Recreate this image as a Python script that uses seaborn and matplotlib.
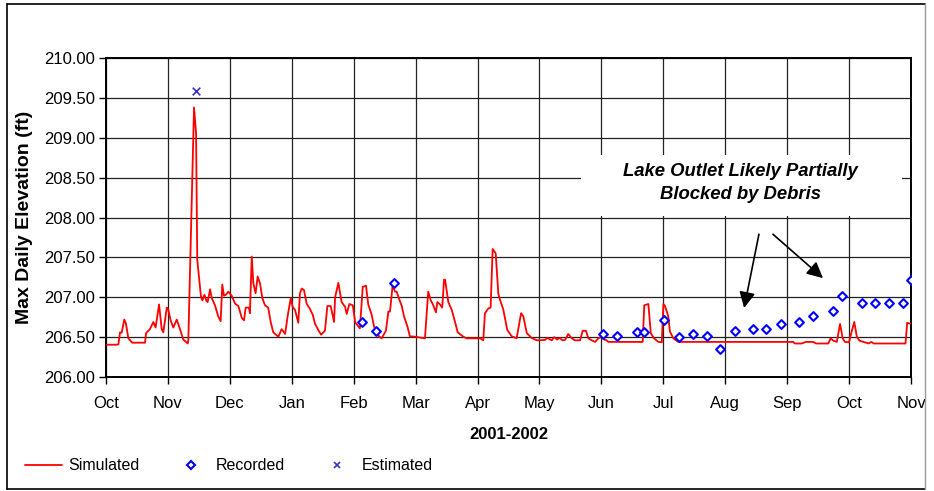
import numpy as np
import pandas as pd
import matplotlib
matplotlib.use("Agg")
import matplotlib.pyplot as plt
from matplotlib.patches import Rectangle
from matplotlib.lines import Line2D
import seaborn as sns

# Simulated max daily lake elevation (days since 1 Oct 2001, ft)
sim_day = [0, 5.3, 6.1, 6.9, 7.7, 9.0, 9.8, 11.0, 12.9, 19.2, 19.7, 21.6, 23.3, 24.4, 26.1,
           27.4, 28.2, 29.9, 30.6, 31.8, 33.1, 34.8, 36.4, 38.0, 40.2, 40.5, 43.3, 44.3, 44.9,
           46.7, 47.4, 48.4, 49.5, 50.0, 51.2, 52.0, 53.6, 55.2, 56.4, 57.2, 58.0, 58.9, 60.2,
           61.8, 63.5, 65.1, 66.8, 67.9, 68.7, 70.3, 70.8, 71.7, 72.5, 73.6, 74.6, 75.8, 76.9,
           78.2, 79.8, 81.0, 82.3, 84.8, 86.4, 88.1, 89.4, 90.9, 91.8, 93.0, 94.6, 95.4, 96.3,
           97.4, 98.7, 100.4, 101.7, 102.8, 104.4, 105.8, 107.7, 108.9, 110.5, 112.2, 112.7,
           114.3, 115.9, 117.6, 118.4, 119.7, 121.4, 122.6, 124.9, 126.3, 127.9, 129.0, 130.7,
           131.8, 133.2, 135.6, 137.7, 138.9, 139.7, 141.0, 142.2, 143.0, 144.3, 145.5, 146.6,
           148.2, 149.5, 152.0, 156.9, 158.5, 159.7, 161.0, 162.3, 163.0, 164.3, 165.4, 166.3,
           166.8, 168.4, 170.1, 171.7, 173.0, 175.8, 177.4, 184.0, 185.6, 186.4, 188.1, 189.2,
           190.2, 191.7, 193.0, 193.8, 195.4, 197.4, 199.6, 202.0, 204.2, 205.3, 207.0, 209.4,
           211.9, 216.0, 217.1, 219.3, 220.5, 221.9, 223.3, 224.5, 225.8, 227.4, 229.1, 230.7,
           233.2, 234.5, 236.1, 237.3, 238.9, 240.6, 242.2, 243.8, 245.0, 246.3, 247.1, 264.0,
           264.8, 266.8, 268.0, 269.6, 271.7, 273.4, 274.2, 275.0, 276.6, 277.4, 279.1, 281.5,
           338.1, 338.9, 342.2, 344.3, 347.9, 349.3, 355.3, 356.5, 357.8, 359.5, 361.1, 362.4,
           363.5, 365.5, 366.8, 368.1, 369.4, 370.7, 372.7, 375.2, 376.4, 377.7, 393.3, 394.1,
           395.3, 396.0]
sim_elev = [206.405, 206.405, 206.41, 206.56, 206.555, 206.72, 206.67, 206.485, 206.43, 206.43,
            206.55, 206.60, 206.69, 206.62, 206.91, 206.60, 206.56, 206.87, 206.85, 206.71,
            206.62, 206.72, 206.60, 206.47, 206.42, 206.46, 209.38, 209.06, 207.47, 207.01,
            206.96, 207.03, 206.95, 206.94, 207.10, 206.99, 206.90, 206.76, 206.70, 207.16,
            207.02, 207.03, 207.07, 207.02, 206.92, 206.89, 206.74, 206.71, 206.87, 206.87,
            206.80, 207.51, 207.17, 207.05, 207.26, 207.17, 206.99, 206.90, 206.87, 206.69,
            206.56, 206.505, 206.60, 206.54, 206.77, 206.99, 206.88, 206.84, 206.68, 207.05,
            207.11, 207.09, 206.92, 206.85, 206.78, 206.67, 206.59, 206.53, 206.58, 206.89,
            206.89, 206.69, 207.00, 207.18, 206.94, 206.88, 206.79, 206.915, 206.90, 206.685,
            206.61, 207.13, 207.145, 206.91, 206.78, 206.64, 206.535, 206.485, 206.58, 206.82,
            206.82, 207.15, 207.07, 207.07, 206.97, 206.89, 206.76, 206.64, 206.51, 206.505,
            206.485, 207.07, 206.965, 206.90, 206.81, 206.94, 206.91, 206.87, 207.22, 207.22,
            206.94, 206.84, 206.69, 206.56, 206.505, 206.485, 206.485, 206.46, 206.80, 206.86,
            206.87, 207.605, 207.55, 207.04, 206.97, 206.85, 206.59, 206.51, 206.485, 206.80,
            206.76, 206.55, 206.49, 206.46, 206.465, 206.49, 206.46, 206.50, 206.47, 206.49,
            206.46, 206.465, 206.54, 206.485, 206.46, 206.46, 206.58, 206.58, 206.485, 206.46,
            206.44, 206.485, 206.505, 206.47, 206.46, 206.44, 206.44, 206.90, 206.915, 206.55,
            206.485, 206.44, 206.435, 206.915, 206.89, 206.76, 206.57, 206.485, 206.44, 206.44,
            206.42, 206.42, 206.44, 206.44, 206.42, 206.42, 206.485, 206.455, 206.44, 206.665,
            206.485, 206.44, 206.435, 206.57, 206.69, 206.50, 206.455, 206.44, 206.42, 206.44,
            206.42, 206.42, 206.68, 206.67, 206.67]

# Recorded gauge readings
rec_day = [125.8, 133.0, 141.8, 244.7, 251.3, 261.1, 264.8, 274.6, 281.8, 288.6, 295.5, 302.1,
           309.3, 318.2, 324.5, 332.0, 341.1, 348.0, 357.8, 362.0, 371.7, 378.3, 385.3, 392.0,
           396.0]
rec_elev = [206.69, 206.58, 207.18, 206.54, 206.52, 206.56, 206.56, 206.71, 206.50, 206.54,
            206.52, 206.35, 206.58, 206.60, 206.60, 206.66, 206.69, 206.77, 206.83, 207.01,
            206.93, 206.93, 206.93, 206.93, 207.22]

# Estimated peak
est_day = [44.3]
est_elev = [209.59]

month_labels = ["Oct", "Nov", "Dec", "Jan", "Feb", "Mar", "Apr", "May", "Jun", "Jul",
                "Aug", "Sep", "Oct", "Nov"]
y_ticks = [206.0, 206.5, 207.0, 207.5, 208.0, 208.5, 209.0, 209.5, 210.0]

sns.set_style("white")
plt.rcParams["font.family"] = ["Liberation Sans", "DejaVu Sans"]
plt.rcParams["text.color"] = "black"
plt.rcParams["axes.labelcolor"] = "black"

fig = plt.figure(figsize=(9.34, 4.91), dpi=100)
ax = fig.add_axes([106 / 934, 1 - 377 / 491, (911 - 106) / 934, (377 - 58) / 491])

sim = pd.DataFrame({"day": sim_day, "elev": sim_elev})
rec = pd.DataFrame({"day": rec_day, "elev": rec_elev})
est = pd.DataFrame({"day": est_day, "elev": est_elev})

sns.lineplot(data=sim, x="day", y="elev", ax=ax, color="#ff0000", linewidth=1.3,
             estimator=None, sort=False, zorder=3, legend=False)
sns.scatterplot(data=rec, x="day", y="elev", ax=ax, marker="D", s=20, facecolor="white",
                edgecolor="#0000ff", linewidth=1.5, zorder=4, legend=False)
sns.scatterplot(data=est, x="day", y="elev", ax=ax, marker="x", s=30, color="#3333cc",
                linewidth=1.2, zorder=4, legend=False)

x_ticks = np.linspace(0, 396, len(month_labels))
ax.set_xlim(0, 396)
ax.set_ylim(206, 210)
ax.set_xticks(x_ticks)
ax.set_xticklabels(month_labels)
ax.set_yticks(y_ticks)
ax.set_yticklabels([f"{v:.2f}" for v in y_ticks])
ax.grid(True, color="#222222", linewidth=0.9)
ax.set_axisbelow(True)
for s in ax.spines.values():
    s.set_color("black")
    s.set_linewidth(1.4)
    s.set_visible(True)
ax.tick_params(axis="both", which="both", direction="out", length=5, width=1,
               colors="black", labelsize=12, bottom=True, left=True)
ax.tick_params(axis="x", pad=9)
ax.tick_params(axis="y", pad=3)
ax.set_xlabel("2001-2002", fontsize=12, fontweight="bold", labelpad=11)
ax.set_ylabel("Max Daily Elevation (ft)", fontsize=14, fontweight="bold", labelpad=8)

# Annotation panel with arrows
ax.add_patch(Rectangle((233.7, 208.02), 391.6 - 233.7, 208.78 - 208.02,
                       facecolor="white", edgecolor="none", zorder=2))
ax.text(311.9, 208.43, "Lake Outlet Likely Partially\nBlocked by Debris", ha="center",
        va="center", fontsize=13.3, fontweight="bold", fontstyle="italic",
        linespacing=1.5, zorder=5)
arrow = dict(arrowstyle="-|>", color="black", lw=1.2, mutation_scale=24,
             shrinkA=0, shrinkB=0)
ax.annotate("", xy=(313.9, 206.865), xytext=(321.2, 207.79), arrowprops=arrow, zorder=5)
ax.annotate("", xy=(352.7, 207.24), xytext=(328.1, 207.79), arrowprops=arrow, zorder=5)

handles = [
    Line2D([], [], color="#ff0000", lw=1.3),
    Line2D([], [], color="#0000ff", marker="D", markersize=4, markerfacecolor="white",
           markeredgewidth=1.5, linestyle="none"),
    Line2D([], [], color="#3333cc", marker="x", markersize=5, markeredgewidth=1.2,
           linestyle="none"),
]
fig.legend(handles, ["Simulated", "Recorded", "Estimated"], loc="center left",
           bbox_to_anchor=(25 / 934, 1 - 466 / 491), ncol=3, frameon=False,
           fontsize=11.5, handlelength=2.3, handletextpad=0.4, columnspacing=2.1,
           borderpad=0, borderaxespad=0)

# Outer chart border
fig.add_artist(Line2D([7 / 934, 925 / 934], [1 - 4 / 491, 1 - 4 / 491], color="black", lw=1.2))
fig.add_artist(Line2D([7 / 934, 7 / 934], [1 - 4 / 491, 1 - 489 / 491], color="black", lw=1.2))
fig.add_artist(Line2D([7 / 934, 925 / 934], [1 - 489 / 491, 1 - 489 / 491], color="black", lw=1.2))
fig.add_artist(Line2D([925 / 934, 925 / 934], [1 - 4 / 491, 1 - 489 / 491], color="#999999", lw=1.0))

fig.savefig("out.png", dpi=100)
